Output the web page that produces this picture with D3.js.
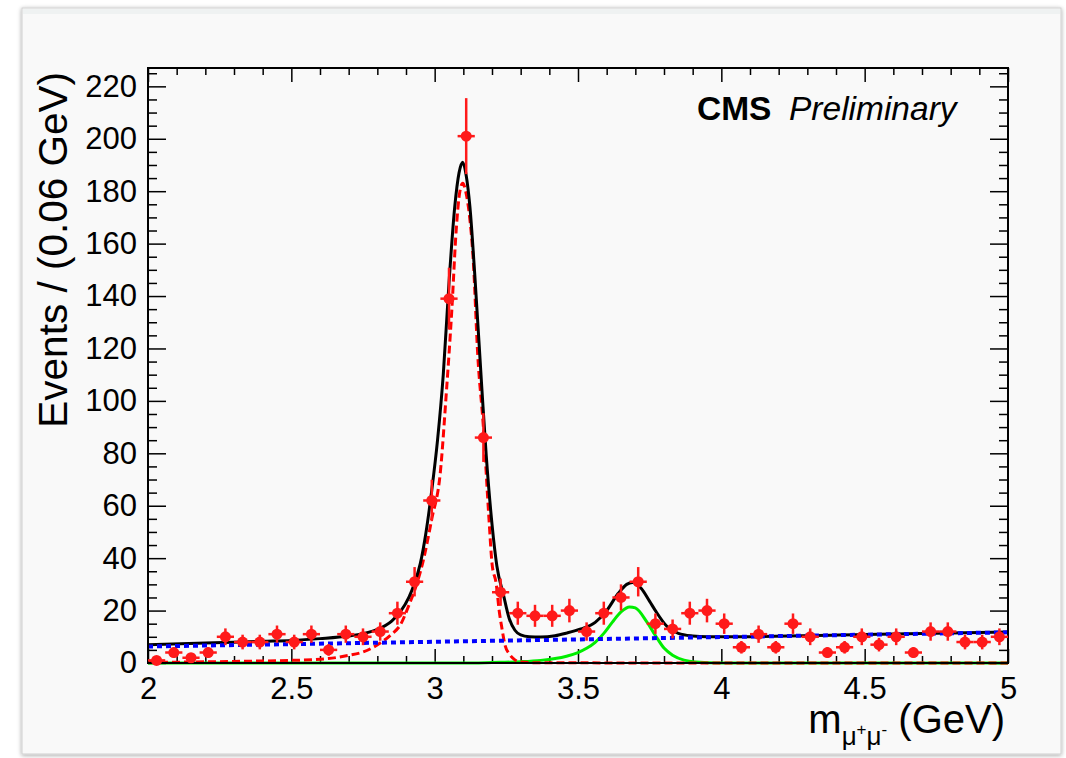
<!DOCTYPE html>
<html>
<head>
<meta charset="utf-8">
<script src="https://cdn.jsdelivr.net/npm/d3@7"></script>
<style>
  html, body { margin: 0; padding: 0; background: #ffffff; }
  svg { display: block; }
  text { font-family: "Liberation Sans", Arial, Helvetica, sans-serif; fill: #000; }
</style>
</head>
<body>
<svg id="chart" width="1066" height="758"></svg>
<script>
// ---------------- data ----------------
const binCenters = [2.03,2.09,2.15,2.21,2.27,2.33,2.39,2.45,2.51,2.57,2.63,2.69,2.75,2.81,2.87,2.93,2.99,3.05,3.11,3.17,
                    3.23,3.29,3.35,3.41,3.47,3.53,3.59,3.65,3.71,3.77,3.83,3.89,3.95,4.01,4.07,4.13,4.19,4.25,4.31,4.37,
                    4.43,4.49,4.55,4.61,4.67,4.73,4.79,4.85,4.91,4.97];
const binWidth = 0.06;
const events = [1,4,2,4,10,8,8,11,8,11,5,11,10,12,19,31,62,139,201,86,
                27,19,18,18,20,12,19,25,31,15,13,19,20,15,6,11,6,15,10,4,
                6,10,7,10,4,12,12,8,8,10];
const errors = [1.0,2.0,1.4,2.0,3.2,2.8,2.8,3.3,2.8,3.3,2.2,3.3,3.2,3.5,4.4,5.6,7.9,11.8,14.5,9.3,
                5.2,4.4,4.2,4.2,4.5,3.5,4.4,5.0,5.6,3.9,3.6,4.4,4.5,3.9,2.4,3.3,2.4,3.9,3.2,2.0,
                2.4,3.2,2.6,3.2,2.0,3.5,3.5,2.8,2.8,3.2];

// total fit (black)
const totalFitMass = [2.0,2.2,2.4,2.5,2.6,2.7,2.75,2.8,2.85,2.88,2.91,2.93,2.95,2.97,2.99,3.01,3.03,3.05,3.07,3.085,
                      3.098,3.11,3.123,3.14,3.165,3.18,3.2,3.217,3.24,3.26,3.28,3.3,3.33,3.37,3.42,3.46,3.51,3.56,3.6,3.64,
                      3.67,3.69,3.72,3.75,3.77,3.81,3.85,3.9,3.95,4.0,4.5,5.0];
const totalFitValue = [7.0,7.6,8.3,8.6,9.3,10.3,11.2,12.8,16,19.5,25,30.5,38,50,66,85,110,145,174,187,
                       191,186,174,148,104,79,53,37,26,17,12.5,10.7,10.0,9.9,10.4,11.4,13,15.5,20,26.5,
                       30,30.7,28.5,23.5,20,14,11.3,10.3,10.0,10.0,10.9,11.8];
// J/psi signal (red dashed)
const jpsiMass = [2.0,2.3,2.5,2.6,2.7,2.75,2.81,2.85,2.88,2.91,2.94,2.96,2.99,3.02,3.04,3.06,3.075,3.088,3.098,3.11,
                  3.12,3.135,3.15,3.17,3.19,3.2,3.215,3.225,3.235,3.245,3.26,3.28,3.3,3.35,4.0,5.0];
const jpsiValue = [0.2,0.6,1.0,1.4,2.9,4.2,7.6,11,14.5,22,31,39,55,73,102,135,165,180,183,179,
                   172,153,118,90,54,38,30,20,13,7,3.5,1.2,0.4,0.1,0,0];
// psi(2S) signal (green)
const psi2sMass = [2.0,3.1,3.2,3.3,3.37,3.42,3.46,3.5,3.53,3.56,3.59,3.62,3.65,3.68,3.70,3.74,3.77,3.80,3.83,3.87,3.91,4.0,5.0];
const psi2sValue = [0,0,0.2,0.5,1.0,1.7,2.6,4.0,5.6,7.9,11.3,15.6,19.5,21.4,21.0,15.7,10.5,5.7,3,1.1,0.4,0,0];
// background (blue dotted)
const bkgMass = [2.0,5.0];
const bkgValue = [6.3,11.7];

const xTicks = [2,2.5,3,3.5,4,4.5,5];
const xTickLabels = ["2","2.5","3","3.5","4","4.5","5"];
const yTicks = [0,20,40,60,80,100,120,140,160,180,200,220];
const yTickLabels = ["0","20","40","60","80","100","120","140","160","180","200","220"];

// ---------------- layout ----------------
const svg = d3.select("#chart");
const L = 148, R = 1008, T = 68, B = 663;
const x = d3.scaleLinear().domain([2,5]).range([L,R]);
const y = d3.scaleLinear().domain([0,227]).range([B,T]);

// window panel
const defs = svg.append("defs");
const f = defs.append("filter").attr("id","sh").attr("x","-5%").attr("y","-5%").attr("width","110%").attr("height","110%");
f.append("feDropShadow").attr("dx",0).attr("dy",1).attr("stdDeviation",2).attr("flood-color","#000").attr("flood-opacity",0.35);
svg.append("rect").attr("x",22).attr("y",8).attr("width",1039).attr("height",746)
   .attr("fill","#f9f9f9").attr("stroke","#cfcfcf").attr("stroke-width",1).attr("filter","url(#sh)");
svg.append("rect").attr("x",23).attr("y",9).attr("width",1037).attr("height",5).attr("fill","#eff2f2");

// ---------------- axes ----------------
const minorX = d3.range(0,31).map(i => 2 + i*0.1).filter(v => !xTicks.some(t => Math.abs(t-v) < 1e-6));
const minorY = d3.range(0,46).map(i => i*5).filter(v => v % 20 !== 0);

function styleAxis(g){
  g.select(".domain").remove();
  g.selectAll("line").attr("stroke","#000").attr("stroke-width",1.5);
}
// bottom
svg.append("g").attr("transform",`translate(0,${B})`)
  .call(d3.axisBottom(x).tickValues(xTicks).tickSize(-14).tickPadding(14).tickFormat((d,i)=>xTickLabels[i]))
  .call(styleAxis)
  .selectAll("text").attr("font-size",31).attr("font-family","Liberation Sans, Arial, sans-serif");
svg.append("g").attr("transform",`translate(0,${B})`)
  .call(d3.axisBottom(x).tickValues(minorX).tickSize(-7).tickFormat(""))
  .call(styleAxis);
// top
svg.append("g").attr("transform",`translate(0,${T})`)
  .call(d3.axisTop(x).tickValues(xTicks).tickSize(-14).tickFormat(""))
  .call(styleAxis);
svg.append("g").attr("transform",`translate(0,${T})`)
  .call(d3.axisTop(x).tickValues(minorX).tickSize(-7).tickFormat(""))
  .call(styleAxis);
// left
svg.append("g").attr("transform",`translate(${L},0)`)
  .call(d3.axisLeft(y).tickValues(yTicks).tickSize(-18).tickPadding(11).tickFormat((d,i)=>yTickLabels[i]))
  .call(styleAxis)
  .selectAll("text").attr("font-size",31).attr("font-family","Liberation Sans, Arial, sans-serif");
svg.append("g").attr("transform",`translate(${L},0)`)
  .call(d3.axisLeft(y).tickValues(minorY).tickSize(-9).tickFormat(""))
  .call(styleAxis);
// right
svg.append("g").attr("transform",`translate(${R},0)`)
  .call(d3.axisRight(y).tickValues(yTicks).tickSize(-18).tickFormat(""))
  .call(styleAxis);
svg.append("g").attr("transform",`translate(${R},0)`)
  .call(d3.axisRight(y).tickValues(minorY).tickSize(-9).tickFormat(""))
  .call(styleAxis);

// ---------------- curves ----------------
const line = d3.line().x(d => x(d[0])).y(d => y(d[1])).curve(d3.curveMonotoneX);
const zip = (a,b) => a.map((v,i)=>[v,b[i]]);

svg.append("path").datum(zip(psi2sMass,psi2sValue)).attr("d",line)
  .attr("fill","none").attr("stroke","#00ee00").attr("stroke-width",3);
svg.append("path").datum(zip(jpsiMass,jpsiValue)).attr("d",line)
  .attr("fill","none").attr("stroke","#ff0000").attr("stroke-width",3).attr("stroke-dasharray","8,4");
svg.append("path").datum(zip(totalFitMass,totalFitValue)).attr("d",line)
  .attr("fill","none").attr("stroke","#000").attr("stroke-width",3);
svg.append("path").datum(zip(bkgMass,bkgValue)).attr("d",line)
  .attr("fill","none").attr("stroke","#0000ff").attr("stroke-width",4).attr("stroke-dasharray","5,4");

// frame
svg.append("rect").attr("x",L).attr("y",T).attr("width",R-L).attr("height",B-T)
  .attr("fill","none").attr("stroke","#000").attr("stroke-width",2);

// ---------------- data points ----------------
const pts = svg.append("g");
binCenters.forEach((c,i) => {
  const g = pts.append("g");
  g.append("line").attr("x1",x(c-binWidth/2)).attr("x2",x(c+binWidth/2))
    .attr("y1",y(events[i])).attr("y2",y(events[i])).attr("stroke","#ff1a1a").attr("stroke-width",2.5);
  g.append("line").attr("x1",x(c)).attr("x2",x(c))
    .attr("y1",y(Math.max(0,events[i]-errors[i]))).attr("y2",y(events[i]+errors[i])).attr("stroke","#ff1a1a").attr("stroke-width",2.5);
  g.append("circle").attr("cx",x(c)).attr("cy",y(events[i])).attr("r",5.5).attr("fill","#ff1a1a");
});

// ---------------- titles ----------------
svg.append("text").attr("transform","translate(67,72) rotate(-90)").attr("text-anchor","end")
  .attr("font-size",40.5).text("Events / (0.06 GeV)");

const xt = svg.append("text").attr("x",1005).attr("y",733).attr("text-anchor","end").attr("font-size",40);
xt.append("tspan").text("m");
xt.append("tspan").attr("font-size",26).attr("dy",12).text("μ");
xt.append("tspan").attr("font-size",17).attr("dy",-10).text("+");
xt.append("tspan").attr("font-size",26).attr("dy",10).text("μ");
xt.append("tspan").attr("font-size",17).attr("dy",-10).text("-");
xt.append("tspan").attr("dy",-2).text(" (GeV)");

svg.append("text").attr("x",697).attr("y",120).attr("font-size",33.5).attr("font-weight","bold").text("CMS");
svg.append("text").attr("x",789).attr("y",120).attr("font-size",33.5).attr("font-style","italic").text("Preliminary");
</script>
</body>
</html>
